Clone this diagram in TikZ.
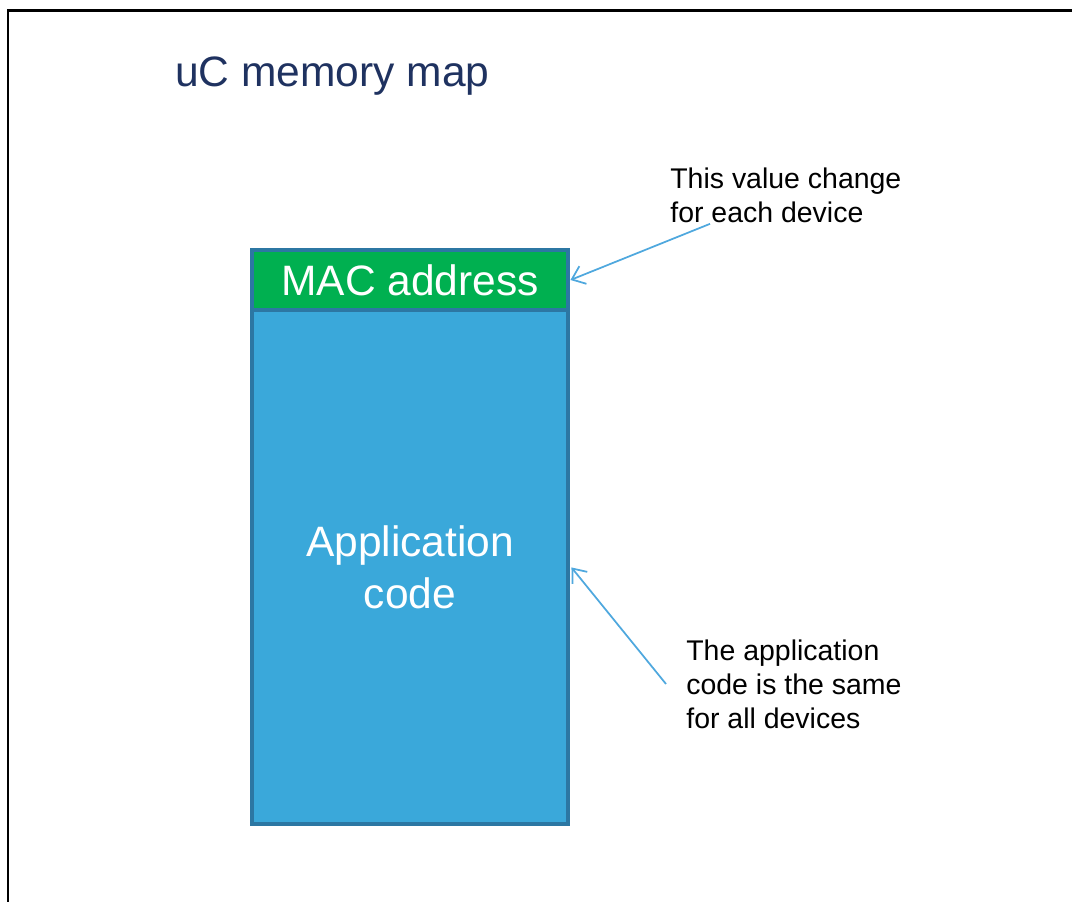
\documentclass[tikz,border=0pt]{standalone}
\usepackage{fontspec}
\setmainfont{Liberation Sans}
\usepackage{tikz}
\usetikzlibrary{arrows.meta,positioning}

\definecolor{titleblue}{HTML}{1F3260}
\definecolor{macgreen}{HTML}{00B050}
\definecolor{appblue}{HTML}{3AA8DA}
\definecolor{edgeblue}{HTML}{2C77A3}
\definecolor{arrowblue}{HTML}{4FA8DE}

\begin{document}
\begin{tikzpicture}
		[x=0.02cm,y=-0.02cm,
		mem node/.style={draw=edgeblue,line width=0.08cm,minimum width=6.34cm,inner sep=0pt,text=white,align=center,font=\fontsize{24.2}{29.6}\selectfont},
		note node/.style={inner sep=0pt,align=left,font=\fontsize{16.2}{19.4}\selectfont},
		pointer/.style={draw=arrowblue,line width=0.035cm,-{Straight Barb[length=0.24cm,width=0.38cm]}}]
		\useasboundingbox (0,0) rectangle (1072,902);
		
		% frame
		\draw[line width=0.06cm] (8,903) -- (8,11) -- (1073,11);
		
		\node[anchor=base west,text=titleblue,inner sep=0pt,font=\fontsize{24.2}{29.6}\selectfont] (title) at (175,87) {uC memory map};
		
		\node[mem node,fill=macgreen,minimum height=1.22cm] (mac) at (410,280) {MAC address};
		\node[mem node,fill=appblue,minimum height=10.28cm,below=-0.08cm of mac,text depth=0pt] (app) {};
		\node[mem node,draw=none,fill=none] (applabel) at (410,567) {Application\\code};
		
		\node[note node,anchor=west] (note1) at (670,195) {This value change\\for each device};
		\node[note node,anchor=west] (note2) at (686,684) {The application\\code is the same\\for all devices};
		
		\draw[pointer] ([xshift=0.8cm,yshift=-0.02cm]note1.south west) -- (mac.east);
		\draw[pointer] ([xshift=-0.4cm]note2.west) -- ([xshift=0.02cm]app.east);
\end{tikzpicture}
\end{document}
